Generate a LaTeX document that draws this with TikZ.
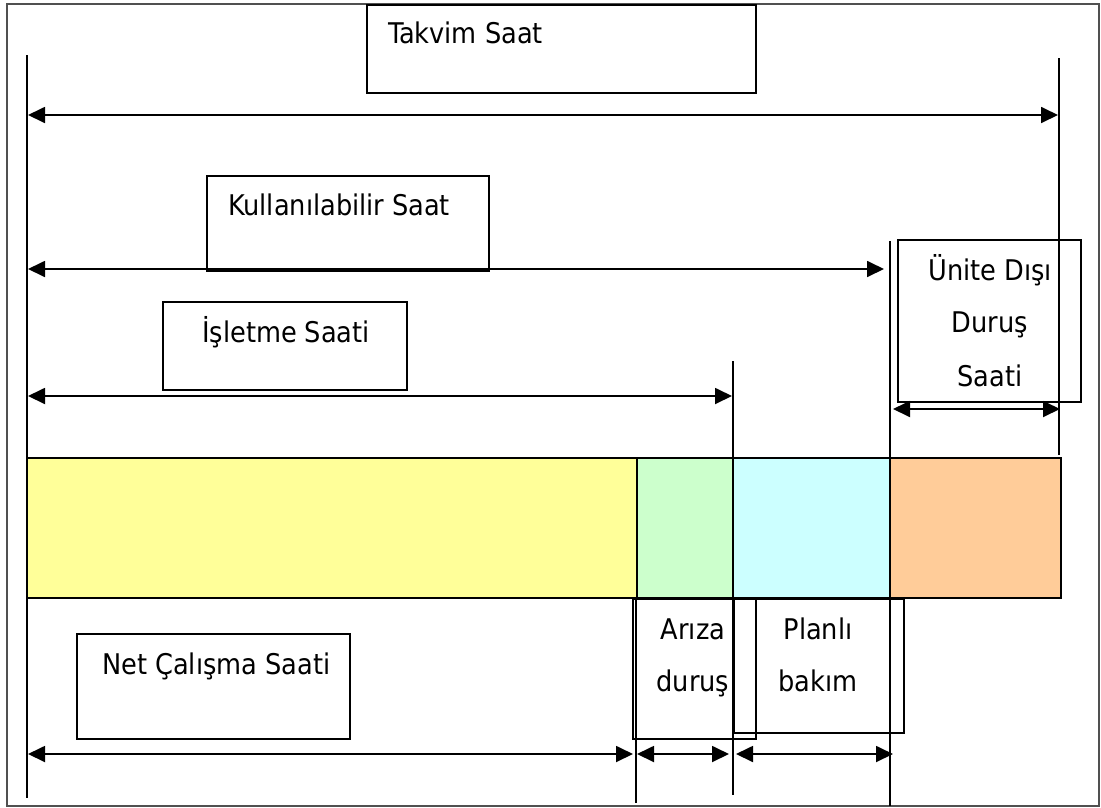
\documentclass[tikz,border=0pt]{standalone}
\usepackage{fontspec}
\setmainfont{DejaVu Sans Condensed}
\usetikzlibrary{arrows.meta}
\definecolor{cyel}{HTML}{FFFF99}
\definecolor{cgrn}{HTML}{CCFFCC}
\definecolor{ccyn}{HTML}{CCFFFF}
\definecolor{corg}{HTML}{FFCC99}
\definecolor{frame}{RGB}{80,80,80}
\tikzset{
  lbl/.style={anchor=base west, inner sep=0pt, font=\fontsize{28.5}{35}\selectfont},
  lblc/.style={anchor=base, inner sep=0pt, font=\fontsize{28.5}{35}\selectfont},
  box/.style={draw=black, line width=1.8pt, anchor=north west, inner sep=0pt, outer sep=0pt},
  bar/.style={draw=black, line width=2pt, anchor=north west, inner sep=0pt, outer sep=0pt},
  vline/.style={draw=black, line width=2pt},
  ddim/.style={draw=black, line width=1.8pt, {Triangle[length=17pt,width=16pt]}-{Triangle[length=17pt,width=16pt]}},
}
\begin{document}
\begin{tikzpicture}[x=1pt,y=-1pt]
\useasboundingbox (0,0) rectangle (1101,807);
\draw[frame, line width=1.8pt] (7,4) rectangle (1099,806);

% coloured bar
\node[bar, fill=cyel, minimum width=610pt, minimum height=140pt] (yel) at (27,458) {};
\node[bar, fill=cgrn, minimum width=96pt, minimum height=140pt] (grn) at (637,458) {};
\node[bar, fill=ccyn, minimum width=157pt, minimum height=140pt] (cyn) at (733,458) {};
\node[bar, fill=corg, minimum width=171pt, minimum height=140pt] (org) at (890,458) {};

% label boxes
\node[box, minimum width=389pt, minimum height=88pt] (takvimbox) at (367,5) {};
\node[box, minimum width=282pt, minimum height=95pt] (kulbox) at (207,176) {};
\node[box, minimum width=244pt, minimum height=88pt] (islbox) at (163,302) {};
\node[box, minimum width=183pt, minimum height=162pt] (unitebox) at (898,240) {};
\node[box, minimum width=273pt, minimum height=105pt] (netbox) at (77,634) {};
\node[box, minimum width=123pt, minimum height=140pt] (arizabox) at (633,599) {};
\node[box, minimum width=170pt, minimum height=134pt] (planbox) at (734,599) {};

% texts
\node[lbl] (takvim) at (388,43) {Takvim Saat};
\node[lbl] (kul) at (228,215) {Kullanılabilir Saat};
\node[lbl] (isl) at (202,342) {İşletme Saati};
\node[lblc] (u1) at (990,280) {Ünite Dışı};
\node[lblc] (u2) at (990,332) {Duruş};
\node[lblc] (u3) at (990,386) {Saati};
\node[lbl] (net) at (102,674) {Net Çalışma Saati};
\node[lblc] (a1) at (693,639) {Arıza};
\node[lblc] (a2) at (693,691) {duruş};
\node[lblc] (p1) at (818,639) {Planlı};
\node[lblc] (p2) at (818,691) {bakım};

% vertical reference lines
\coordinate (v1t) at (27,55);   \coordinate (v1b) at (27,798);
\coordinate (v2t) at (1059,58); \coordinate (v2b) at (1059,455);
\coordinate (v3t) at (890,241); \coordinate (v3b) at (890,806);
\coordinate (v4t) at (733,361); \coordinate (v4b) at (733,795);
\coordinate (v5t) at (636,598); \coordinate (v5b) at (636,803);
\draw[vline] (v1t) -- (v1b);
\draw[vline] (v2t) -- (v2b);
\draw[vline] (v3t) -- (v3b);
\draw[vline] (v4t) -- (v4b);
\draw[vline] (v5t) -- (v5b);

% dimension arrows
\coordinate (t1) at (28,115);  \coordinate (t2) at (1058,115);
\coordinate (k1) at (28,269);  \coordinate (k2) at (884,269);
\coordinate (i1) at (28,396);  \coordinate (i2) at (732,396);
\coordinate (u1a) at (893,409); \coordinate (u2a) at (1060,409);
\coordinate (n1) at (28,754);  \coordinate (n2) at (633,754);
\coordinate (a1a) at (637,754); \coordinate (a2a) at (729,754);
\coordinate (p1a) at (736,754); \coordinate (p2a) at (893,754);
\draw[ddim] (t1) -- (t2);
\draw[ddim] (k1) -- (k2);
\draw[ddim] (i1) -- (i2);
\draw[ddim] (u1a) -- (u2a);
\draw[ddim] (n1) -- (n2);
\draw[ddim] (a1a) -- (a2a);
\draw[ddim] (p1a) -- (p2a);
\end{tikzpicture}
\end{document}
